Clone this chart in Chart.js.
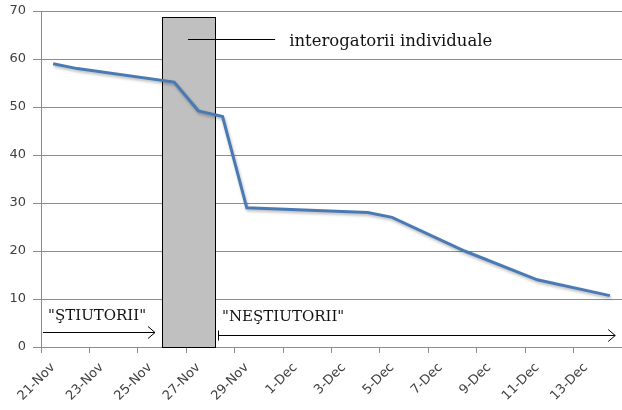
<!DOCTYPE html>
<html>
<head>
<meta charset="utf-8">
<script src="https://cdn.jsdelivr.net/npm/chart.js@4"></script>
<style>
    body { margin: 0; background: #fff; }
    canvas { display: block; }
</style>
</head>
<body>
<canvas id="trendChart" width="622" height="410"></canvas>
<script>
// days on the date axis, one slot per day
const dayLabels = [
    '21-Nov', '22-Nov', '23-Nov', '24-Nov', '25-Nov', '26-Nov', '27-Nov', '28-Nov', '29-Nov', '30-Nov',
    '1-Dec', '2-Dec', '3-Dec', '4-Dec', '5-Dec', '6-Dec', '7-Dec', '8-Dec', '9-Dec', '10-Dec',
    '11-Dec', '12-Dec', '13-Dec', '14-Dec'
];
// measured values (null = no reading that day, line just joins across)
const dayValues = [
    59, 58, null, null, null, 55.2, 49.2, 48, 29, null,
    null, null, null, 28, 27, null, null, 20, null, null,
    14, null, null, 10.7
];
const yTicks = [0, 10, 20, 30, 40, 50, 60, 70];

// shaded "interogatorii" period, in day-slot units
const shadeFrom = 4.5;
const shadeTo = 6.68;
const shadeTop = 68.7;

const serif = '"DejaVu Serif", "Liberation Serif", serif';

function arrowHead(ctx, x, y) {
    ctx.beginPath();
    ctx.moveTo(x - 7, y - 6);
    ctx.lineTo(x, y);
    ctx.lineTo(x - 7, y + 6);
    ctx.stroke();
}

const overlayPlugin = {
    id: 'overlay',
    beforeDatasetsDraw(chart) {
        const { ctx, scales: { x, y } } = chart;
        const x1 = Math.round(x.getPixelForValue(shadeFrom)) + 0.5;
        const x2 = Math.round(x.getPixelForValue(shadeTo)) + 0.5;
        const y1 = Math.round(y.getPixelForValue(shadeTop)) + 0.5;
        const y2 = Math.round(y.getPixelForValue(0)) + 0.5;
        ctx.save();
        ctx.fillStyle = '#c0c0c0';
        ctx.fillRect(x1, y1, x2 - x1, y2 - y1);
        ctx.strokeStyle = '#000';
        ctx.lineWidth = 1;
        ctx.strokeRect(x1, y1, x2 - x1, y2 - y1);
        ctx.restore();
    },
    beforeDatasetDraw(chart) {
        const ctx = chart.ctx;
        ctx.save();
        ctx.shadowColor = 'rgba(0,0,0,0.28)';
        ctx.shadowBlur = 3;
        ctx.shadowOffsetX = 1;
        ctx.shadowOffsetY = 2;
    },
    afterDatasetDraw(chart) {
        chart.ctx.restore();
    },
    afterDatasetsDraw(chart) {
        const { ctx, scales: { x, y } } = chart;
        ctx.save();
        ctx.strokeStyle = '#000';
        ctx.fillStyle = '#111';
        ctx.lineWidth = 1;

        // pointer line to the label
        let ly = Math.round(y.getPixelForValue(64.2)) + 0.5;
        ctx.beginPath();
        ctx.moveTo(x.getPixelForValue(5.57), ly);
        ctx.lineTo(x.getPixelForValue(9.17), ly);
        ctx.stroke();

        ctx.font = '16.5px ' + serif;
        ctx.textBaseline = 'alphabetic';
        ctx.fillText('interogatorii individuale', x.getPixelForValue(9.75), y.getPixelForValue(62.8));

        // "ŞTIUTORII" arrow
        ctx.font = '15px ' + serif;
        ctx.fillText('"ŞTIUTORII"', x.getPixelForValue(-0.21), y.getPixelForValue(5.6));
        ly = Math.round(y.getPixelForValue(3.1)) + 0.5;
        const a1 = x.getPixelForValue(-0.42);
        const a2 = x.getPixelForValue(4.21);
        ctx.beginPath();
        ctx.moveTo(a1, ly);
        ctx.lineTo(a2, ly);
        ctx.stroke();
        arrowHead(ctx, a2, ly);

        // "NEŞTIUTORII" arrow
        ctx.fillText('"NEŞTIUTORII"', x.getPixelForValue(6.98), y.getPixelForValue(5.4));
        ly = Math.round(y.getPixelForValue(2.5)) + 0.5;
        const b1 = Math.round(x.getPixelForValue(6.81)) + 0.5;
        const b2 = x.getPixelForValue(23.22);
        ctx.beginPath();
        ctx.moveTo(b1, ly);
        ctx.lineTo(b2, ly);
        ctx.moveTo(b1, ly - 5);
        ctx.lineTo(b1, ly + 5);
        ctx.stroke();
        arrowHead(ctx, b2, ly);
        ctx.restore();
    }
};

const gridGrey = '#8c8c8c';

new Chart(document.getElementById('trendChart'), {
    type: 'line',
    data: {
        labels: dayLabels,
        datasets: [{
            data: dayValues,
            borderColor: '#4a7ab4',
            borderWidth: 3,
            pointRadius: 0,
            tension: 0,
            spanGaps: true,
            fill: false
        }]
    },
    options: {
        responsive: false,
        animation: false,
        layout: { padding: { top: 11, right: 0, left: 0, bottom: 0 } },
        plugins: {
            legend: { display: false },
            tooltip: { enabled: false }
        },
        scales: {
            x: {
                offset: true,
                afterFit: scale => {
                    scale.height = 63;
                    scale.paddingLeft = 0;
                    scale.paddingRight = 0;
                },
                border: { color: gridGrey },
                grid: {
                    offset: true,
                    drawOnChartArea: false,
                    tickLength: 6,
                    color: c => (c.index !== undefined && c.index % 2 === 0) ? gridGrey : 'rgba(0,0,0,0)'
                },
                ticks: {
                    autoSkip: false,
                    maxRotation: 45,
                    minRotation: 45,
                    padding: 7,
                    color: '#404040',
                    font: { family: '"DejaVu Sans", sans-serif', size: 13 },
                    callback: (val, i) => i % 2 === 0 ? dayLabels[i] : ''
                }
            },
            y: {
                min: yTicks[0],
                max: yTicks[yTicks.length - 1],
                afterFit: scale => {
                    scale.width = 41;
                    scale.paddingTop = 0;
                },
                afterBuildTicks: scale => { scale.ticks = yTicks.map(v => ({ value: v })); },
                border: { color: gridGrey },
                grid: { color: gridGrey, tickLength: 8 },
                ticks: {
                    padding: 7,
                    color: '#404040',
                    font: { family: '"DejaVu Sans", sans-serif', size: 13 }
                }
            }
        }
    },
    plugins: [overlayPlugin]
});
</script>
</body>
</html>
